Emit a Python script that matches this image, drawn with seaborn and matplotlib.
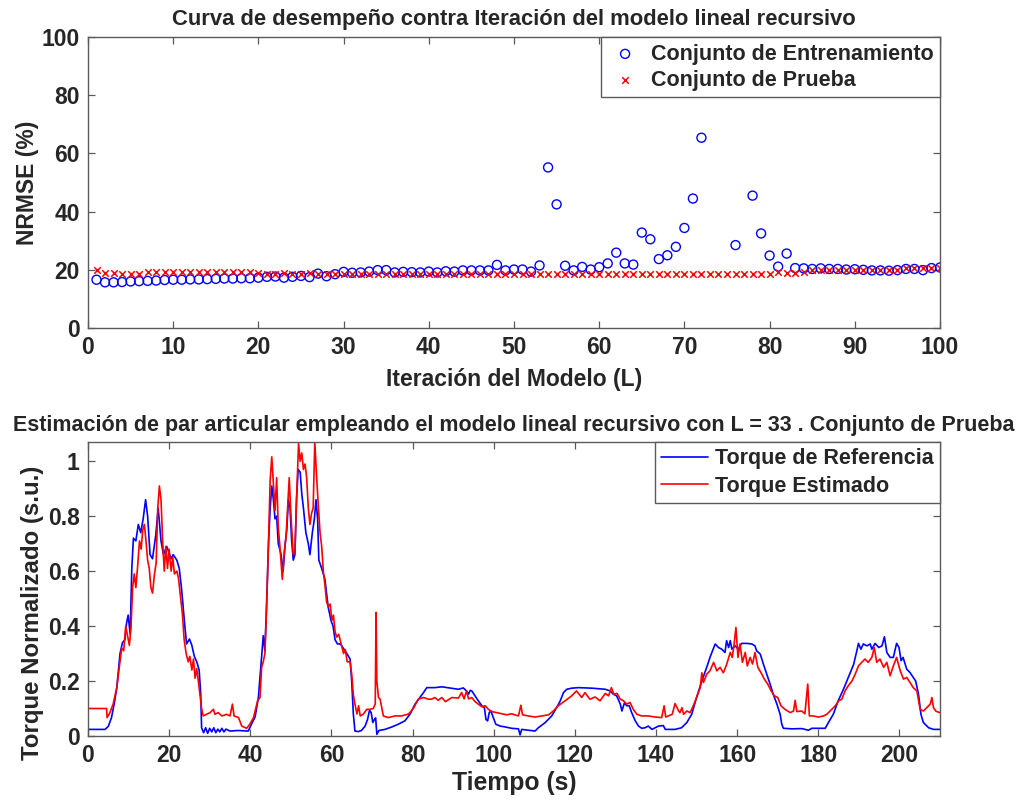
import numpy as np
import pandas as pd
import matplotlib
matplotlib.use("Agg")
import matplotlib.pyplot as plt
import seaborn as sns

# ---------------- data: top panel ----------------
iterations = list(range(1, 101))
nan = np.nan
train_nrmse = [16.6, 15.7, 15.7, 15.8, 16.0, 16.1, 16.2, 16.3, 16.5, 16.6,
               16.6, 16.7, 16.7, 16.8, 16.9, 17.0, 17.0, 17.1, 17.1, 17.3,
               17.6, 17.7, 17.3, 17.6, 17.9, 17.5, 18.7, 17.8, 18.5, 19.3,
               19.0, 19.1, 19.4, 19.9, 19.9, 19.1, 19.3, 19.2, 19.1, 19.4,
               19.1, 19.5, 19.4, 19.8, 19.8, 19.8, 19.8, 21.7, 19.8, 20.1,
               20.1, 19.4, 21.5, 55.2, 42.5, 21.4, 19.8, 21.0, 20.1, 20.9,
               22.2, 25.9, 22.2, 21.8, 32.8, 30.5, 23.7, 25.0, 27.9, 34.4,
               44.5, 65.4, nan, nan, nan, 28.5, nan, 45.5, 32.5, 24.9,
               21.1, 25.6, 20.6, 20.5, 20.3, 20.5, 20.3, 20.3, 20.1, 20.2,
               20.0, 19.8, 19.8, 19.7, 19.9, 20.3, 20.3, 19.9, 20.6, 20.8]
test_nrmse = [20.0, 19.0, 19.0, 18.7, 18.7, 18.7, 19.1, 19.1, 19.3, 19.3,
              19.3, 19.3, 19.3, 19.3, 19.3, 19.1, 19.1, 19.1, 19.1, 18.9,
              18.5, 18.5, 19.0, 18.5, 18.7, 18.9, 18.7, 18.7, 18.7, 18.5,
              18.5, 18.5, 18.5, 18.5, 18.5, 18.5, 18.5, 18.5, 18.5, 18.5,
              18.5, 18.5, 18.5, 18.5, 18.5, 18.6, 18.7, 18.7, 18.7, 18.7,
              18.7, 18.7, 18.7, 18.7, 18.7, 18.7, 18.7, 18.7, 18.7, 18.7,
              18.6, 18.6, 18.6, 18.6, 18.4, 18.4, 18.4, 18.4, 18.4, 18.4,
              18.7, 18.7, 18.7, 18.7, 18.7, 18.7, 18.7, 18.7, 18.7, 18.7,
              19.1, 19.0, 19.0, 19.4, 19.8, 19.8, 19.8, 19.8, 19.8, 19.8,
              20.0, 20.0, 20.0, 20.0, 20.0, 20.5, 20.5, 20.5, 20.6, 20.6]

# ---------------- data: bottom panel ----------------
ref_time = [0, 4.2, 5.0, 5.8, 6.5, 7.1, 7.9, 8.5, 9.1, 9.5, 9.9, 10.4, 10.8, 11.2, 11.8,
            12.4, 13.0, 13.6, 14.2, 14.7, 15.3, 15.9, 16.7, 17.3, 18.0, 18.6, 19.4, 20.5,
            21.0, 21.9, 22.5, 23.1, 23.9, 24.3, 25.0, 25.6, 26.2, 26.8, 27.4, 27.8, 28.0,
            28.5, 29.0, 29.5, 30.0, 30.5, 31.0, 31.5, 32.0, 32.5, 33.0, 33.5, 34.0, 35.0,
            37.0, 39.5, 40.3, 41.2, 42.0, 42.8, 43.2, 43.6, 44.0, 44.5, 44.9, 45.3, 45.7,
            46.1, 46.5, 46.9, 47.6, 48.1, 48.6, 49.0, 49.4, 49.8, 50.2, 50.6, 51.0, 51.4,
            51.8, 52.3, 52.7, 53.1, 53.7, 54.3, 54.7, 55.3, 55.8, 56.2, 56.6, 56.9, 57.6,
            58.4, 58.8, 59.2, 59.9, 60.4, 60.9, 61.5, 62.2, 62.9, 63.8, 64.6, 65.0, 65.4,
            65.8, 66.6, 67.4, 68.3, 68.9, 69.4, 69.8, 70.2, 70.6, 70.9, 71.2, 71.7, 73.2,
            74.9, 76.5, 78.1, 79.4, 80.6, 81.8, 82.7, 83.5, 85.5, 87.2, 91.3, 92.5, 93.3,
            93.8, 94.2, 94.6, 95.4, 96.2, 97.1, 97.7, 98.1, 98.5, 98.9, 99.3, 99.9, 100.5,
            101.6, 102.8, 104.4, 106.1, 106.5, 106.9, 108.5, 110.2, 111.0, 112.7, 114.3,
            115.5, 116.4, 117.2, 118.0, 119.2, 120.9, 124.2, 127.5, 128.7, 129.5, 130.3,
            131.2, 131.6, 132.2, 132.8, 133.4, 134.0, 134.9, 135.7, 136.5, 137.3, 138.1,
            139.0, 140.6, 141.8, 142.3, 144.7, 146.3, 147.6, 148.8, 150.0, 151.3, 152.5,
            153.4, 154.2, 154.6, 155.4, 156.2, 157.0, 157.4, 157.9, 158.3, 158.7, 159.5,
            160.3, 161.1, 162.4, 163.6, 164.4, 164.8, 165.7, 166.5, 167.3, 168.1, 168.9,
            169.8, 170.6, 171.0, 171.4, 173.5, 175.9, 177.6, 178.4, 181.7, 182.5, 183.7,
            184.9, 186.2, 187.4, 188.7, 189.5, 189.9, 190.5, 191.1, 192.0, 192.8, 193.2,
            194.0, 194.9, 195.7, 196.3, 196.9, 197.7, 198.5, 199.3, 199.9, 200.4, 200.9,
            201.8, 202.6, 203.4, 204.0, 204.7, 205.3, 205.9, 207.2, 208.4, 210.0]
ref_torque = [0.024, 0.024, 0.035, 0.067, 0.12, 0.176, 0.30, 0.34, 0.35, 0.41, 0.44, 0.37, 0.61,
              0.72, 0.71, 0.77, 0.74, 0.79, 0.86, 0.80, 0.66, 0.645, 0.73, 0.83, 0.71, 0.66,
              0.69, 0.645, 0.66, 0.64, 0.61, 0.53, 0.395, 0.335, 0.353, 0.33, 0.29, 0.27, 0.24,
              0.15, 0.03, 0.012, 0.03, 0.01, 0.028, 0.015, 0.03, 0.012, 0.025, 0.015, 0.028,
              0.015, 0.025, 0.018, 0.02, 0.018, 0.043, 0.07, 0.14, 0.29, 0.365, 0.31, 0.47,
              0.70, 0.83, 0.91, 0.86, 0.79, 0.80, 0.70, 0.66, 0.60, 0.70, 0.75, 0.86, 0.83,
              0.71, 0.64, 0.66, 0.86, 0.97, 0.96, 0.88, 0.83, 0.74, 0.70, 0.66, 0.74, 0.79,
              0.86, 0.79, 0.64, 0.61, 0.57, 0.52, 0.47, 0.42, 0.40, 0.35, 0.335, 0.335, 0.32,
              0.30, 0.28, 0.20, 0.08, 0.018, 0.016, 0.02, 0.036, 0.06, 0.094, 0.085, 0.049,
              0.06, 0.066, 0.006, 0.02, 0.024, 0.033, 0.043, 0.055, 0.08, 0.116, 0.14, 0.158,
              0.176, 0.176, 0.179, 0.17, 0.175, 0.164, 0.152, 0.166, 0.164, 0.146, 0.128,
              0.11, 0.103, 0.06, 0.055, 0.085, 0.091, 0.067, 0.043, 0.036, 0.033, 0.028,
              0.026, 0.004, 0.024, 0.021, 0.018, 0.03, 0.049, 0.073, 0.103, 0.128, 0.158,
              0.17, 0.174, 0.176, 0.174, 0.17, 0.164, 0.152, 0.146, 0.116, 0.091, 0.12, 0.11,
              0.11, 0.085, 0.055, 0.036, 0.028, 0.030, 0.036, 0.024, 0.036, 0.038, 0.024,
              0.024, 0.03, 0.049, 0.079, 0.14, 0.20, 0.25, 0.29, 0.32, 0.335, 0.322, 0.316,
              0.304, 0.347, 0.322, 0.347, 0.316, 0.328, 0.316, 0.337, 0.337, 0.335, 0.328,
              0.31, 0.298, 0.26, 0.225, 0.19, 0.152, 0.116, 0.079, 0.043, 0.028, 0.026, 0.027,
              0.021, 0.028, 0.028, 0.049, 0.079, 0.128, 0.17, 0.213, 0.26, 0.31, 0.337, 0.316,
              0.335, 0.328, 0.335, 0.316, 0.337, 0.322, 0.328, 0.361, 0.304, 0.286, 0.286,
              0.337, 0.322, 0.274, 0.286, 0.243, 0.231, 0.213, 0.20, 0.152, 0.079, 0.049, 0.03,
              0.024, 0.024]

est_time = [0, 4.6, 4.7, 5.4, 6.2, 7.1, 7.9, 8.3, 8.8, 9.3, 9.8, 10.2, 10.6, 11.0, 11.4, 11.8,
            12.2, 12.7, 13.1, 13.5, 13.9, 14.3, 14.7, 15.1, 15.5, 15.9, 16.4, 16.8, 17.2,
            17.6, 18.0, 18.4, 18.8, 19.2, 19.6, 20.0, 20.5, 20.9, 21.3, 21.9, 22.3, 22.7,
            23.3, 23.7, 24.2, 24.7, 25.1, 25.6, 26.0, 26.4, 26.8, 27.2, 27.6, 28.0, 28.4,
            29.2, 30.1, 30.9, 31.3, 32.1, 33.0, 34.2, 35.0, 35.6, 36.0, 37.1, 37.9, 39.1,
            39.9, 40.8, 41.8, 42.4, 42.8, 43.2, 43.6, 44.0, 44.5, 44.9, 45.3, 45.7, 46.1,
            46.5, 46.9, 47.3, 47.9, 48.4, 48.8, 49.2, 49.6, 50.0, 50.6, 51.0, 51.4, 51.9,
            52.3, 52.7, 53.1, 53.5, 53.9, 54.3, 54.7, 55.1, 55.5, 55.9, 56.4, 56.8, 57.2,
            57.6, 58.0, 58.4, 58.8, 59.2, 59.7, 60.1, 60.5, 60.9, 61.3, 61.8, 62.4, 63.0,
            63.4, 63.9, 64.6, 65.0, 65.4, 65.8, 66.3, 66.7, 67.1, 67.9, 68.7, 69.5, 70.3,
            70.8, 71.0, 71.2, 71.6, 72.0, 72.8, 74.0, 75.7, 77.3, 79.0, 80.2, 81.4, 82.7,
            83.9, 84.7, 85.5, 86.3, 87.2, 88.1, 89.7, 91.3, 92.1, 92.7, 93.3, 93.8, 94.6,
            95.4, 96.2, 97.1, 97.9, 98.7, 99.5, 100.8, 102.0, 103.2, 104.4, 106.1, 106.7,
            107.1, 108.5, 110.2, 111.8, 113.5, 114.7, 115.9, 117.6, 119.2, 120.4, 121.7,
            122.5, 123.7, 125.0, 126.2, 127.5, 128.3, 129.0, 129.6, 130.4, 131.2, 132.0,
            132.8, 133.6, 134.4, 135.3, 136.5, 138.1, 139.8, 141.4, 142.0, 142.4, 144.0,
            144.7, 145.6, 145.9, 146.4, 146.8, 147.6, 148.4, 149.2, 150.0, 150.9, 151.3,
            151.7, 152.5, 153.3, 154.2, 155.0, 155.8, 156.6, 157.4, 158.3, 158.8, 159.2,
            159.7, 160.2, 160.7, 161.3, 162.0, 162.5, 163.2, 163.8, 164.4, 165.1, 165.9,
            166.7, 167.5, 168.4, 169.2, 170.0, 170.8, 171.8, 173.1, 173.9, 174.3, 174.7,
            175.9, 176.7, 177.4, 177.8, 178.8, 180.0, 181.3, 182.1, 183.3, 184.2, 185.0,
            185.8, 186.6, 187.4, 188.3, 189.1, 189.9, 190.7, 191.5, 192.3, 193.2, 193.8,
            194.4, 195.2, 196.1, 196.9, 197.7, 198.5, 199.3, 200.2, 201.0, 201.8, 202.6,
            203.4, 204.3, 205.1, 205.9, 206.7, 207.6, 208.0, 208.4, 209.0, 210.0]
est_torque = [0.10, 0.10, 0.067, 0.085, 0.116, 0.176, 0.27, 0.32, 0.31, 0.40, 0.36, 0.33,
              0.395, 0.54, 0.59, 0.54, 0.61, 0.71, 0.68, 0.75, 0.77, 0.71, 0.64, 0.61, 0.54,
              0.52, 0.59, 0.63, 0.83, 0.91, 0.86, 0.71, 0.60, 0.69, 0.61, 0.68, 0.60, 0.65,
              0.59, 0.60, 0.575, 0.52, 0.44, 0.35, 0.30, 0.27, 0.29, 0.24, 0.28, 0.21, 0.245,
              0.20, 0.15, 0.10, 0.073, 0.079, 0.085, 0.097, 0.079, 0.085, 0.073, 0.079, 0.073,
              0.116, 0.073, 0.067, 0.036, 0.028, 0.043, 0.067, 0.128, 0.14, 0.25, 0.27, 0.30,
              0.456, 0.71, 0.93, 1.016, 0.92, 0.82, 0.94, 0.76, 0.69, 0.57, 0.675, 0.72, 0.83,
              0.94, 0.81, 0.66, 0.67, 0.86, 1.065, 1.0, 1.03, 0.97, 0.99, 0.94, 0.83, 0.77,
              0.81, 0.83, 1.07, 0.93, 0.83, 0.74, 0.69, 0.60, 0.55, 0.49, 0.47, 0.48, 0.42,
              0.44, 0.38, 0.36, 0.37, 0.335, 0.30, 0.315, 0.27, 0.27, 0.225, 0.15, 0.116, 0.08,
              0.11, 0.073, 0.08, 0.097, 0.097, 0.10, 0.116, 0.45, 0.20, 0.14, 0.134, 0.073,
              0.067, 0.073, 0.073, 0.08, 0.10, 0.134, 0.14, 0.134, 0.134, 0.14, 0.13, 0.14,
              0.125, 0.14, 0.138, 0.158, 0.135, 0.164, 0.135, 0.14, 0.125, 0.116, 0.106, 0.11,
              0.097, 0.089, 0.085, 0.081, 0.077, 0.081, 0.073, 0.112, 0.077, 0.073, 0.069,
              0.073, 0.077, 0.091, 0.11, 0.128, 0.146, 0.164, 0.14, 0.158, 0.134, 0.142, 0.128,
              0.155, 0.146, 0.176, 0.152, 0.155, 0.134, 0.128, 0.116, 0.122, 0.097, 0.079,
              0.073, 0.073, 0.069, 0.067, 0.11, 0.069, 0.079, 0.118, 0.091, 0.085, 0.103,
              0.079, 0.091, 0.085, 0.11, 0.14, 0.176, 0.23, 0.195, 0.225, 0.237, 0.268, 0.237,
              0.25, 0.23, 0.26, 0.304, 0.286, 0.328, 0.395, 0.286, 0.335, 0.268, 0.304, 0.255,
              0.286, 0.262, 0.304, 0.25, 0.23, 0.207, 0.19, 0.164, 0.146, 0.14, 0.11, 0.097,
              0.085, 0.091, 0.13, 0.089, 0.091, 0.081, 0.189, 0.073, 0.073, 0.069, 0.073,
              0.079, 0.097, 0.11, 0.128, 0.134, 0.164, 0.183, 0.20, 0.225, 0.255, 0.268, 0.28,
              0.268, 0.286, 0.322, 0.268, 0.28, 0.25, 0.268, 0.219, 0.255, 0.286, 0.237, 0.207,
              0.213, 0.195, 0.176, 0.164, 0.097, 0.091, 0.103, 0.116, 0.14, 0.103, 0.09, 0.085]

top_title = "Curva de desempeño contra Iteración del modelo lineal recursivo"
bottom_title = ("Estimación de par articular empleando el modelo lineal recursivo "
                "con L = 33 . Conjunto de Prueba")

# ---------------- style ----------------
sns.set_theme(style="white")
plt.rcParams["font.family"] = ["Liberation Sans", "DejaVu Sans"]
plt.rcParams["font.weight"] = "bold"
plt.rcParams["axes.labelweight"] = "bold"
plt.rcParams["axes.titleweight"] = "bold"

SPINE = "#5a5a5a"
TICK_FS = 16.5
LABEL_FS = 16.5
TITLE_FS = 15.8
LEG_FS = 15.5

fig = plt.figure(figsize=(10.16, 8.02), dpi=100)
fig.patch.set_facecolor("white")
ax1 = fig.add_axes([0.0866, 0.591, 0.8386, 0.3628])
ax2 = fig.add_axes([0.0866, 0.0823, 0.8386, 0.3666])

# top panel
top_df = pd.DataFrame({"it": iterations, "train": train_nrmse, "test": test_nrmse})
sns.scatterplot(data=top_df, x="it", y="train", ax=ax1, marker="o", s=42,
                color="blue", linewidth=1.0, label="Conjunto de Entrenamiento")
train_coll = ax1.collections[-1]
train_coll.set_facecolor("none")
train_coll.set_edgecolor("blue")
sns.scatterplot(data=top_df, x="it", y="test", ax=ax1, marker="x", s=22,
                color="red", linewidth=1.1, label="Conjunto de Prueba")

ax1.set_xlim(0, 100)
ax1.set_ylim(0, 100)
ax1.set_xticks(range(0, 101, 10))
ax1.set_yticks(range(0, 101, 20))
ax1.set_xlabel("Iteración del Modelo (L)", fontsize=LABEL_FS, fontweight="bold", labelpad=6)
ax1.set_ylabel("NRMSE (%)", fontsize=LABEL_FS, fontweight="bold")
ax1.yaxis.set_label_coords(-0.057, 0.5)
ax1.set_title(top_title, fontsize=TITLE_FS, fontweight="bold", pad=9)
leg1 = ax1.legend(loc="upper right", borderaxespad=0, fontsize=LEG_FS, frameon=True,
                  fancybox=False, framealpha=1, edgecolor=SPINE, handletextpad=0.4,
                  borderpad=0.3, labelspacing=0.25, handlelength=1.6)
for t in leg1.get_texts():
    t.set_fontweight("bold")

# bottom panel
sns.lineplot(x=ref_time, y=ref_torque, ax=ax2, color="blue", linewidth=1.2,
             sort=False, estimator=None, label="Torque de Referencia")
sns.lineplot(x=est_time, y=est_torque, ax=ax2, color="red", linewidth=1.2,
             sort=False, estimator=None, label="Torque Estimado")
ax2.set_xlim(0, 210)
ax2.set_ylim(0, max(max(ref_torque), max(est_torque)))
ax2.set_xticks(range(0, 201, 20))
ax2.set_yticks([0, 0.2, 0.4, 0.6, 0.8, 1.0])
ax2.set_yticklabels(["0", "0.2", "0.4", "0.6", "0.8", "1"])
ax2.set_xlabel("Tiempo (s)", fontsize=LABEL_FS + 1.3, fontweight="bold", labelpad=3)
ax2.set_ylabel("Torque Normalizado (s.u.)", fontsize=LABEL_FS + 0.8, fontweight="bold")
ax2.yaxis.set_label_coords(-0.052, 0.42)
ax2.set_title(bottom_title, fontsize=15.5, fontweight="bold", pad=8)
leg2 = ax2.legend(loc="upper right", borderaxespad=0, fontsize=LEG_FS, frameon=True,
                  fancybox=False, framealpha=1, edgecolor=SPINE, handletextpad=0.3,
                  borderpad=0.3, labelspacing=0.3, handlelength=2.2)
for t in leg2.get_texts():
    t.set_fontweight("bold")

for ax in (ax1, ax2):
    for sp in ax.spines.values():
        sp.set_visible(True)
        sp.set_color(SPINE)
        sp.set_linewidth(1.0)
    ax.tick_params(direction="in", length=5, width=0.9, color=SPINE,
                   top=True, right=True, bottom=True, left=True,
                   labelsize=TICK_FS, pad=6)
    for lab in ax.get_xticklabels() + ax.get_yticklabels():
        lab.set_fontweight("bold")
    ax.set_facecolor("white")

fig.savefig("out.png", dpi=100, facecolor="white")
